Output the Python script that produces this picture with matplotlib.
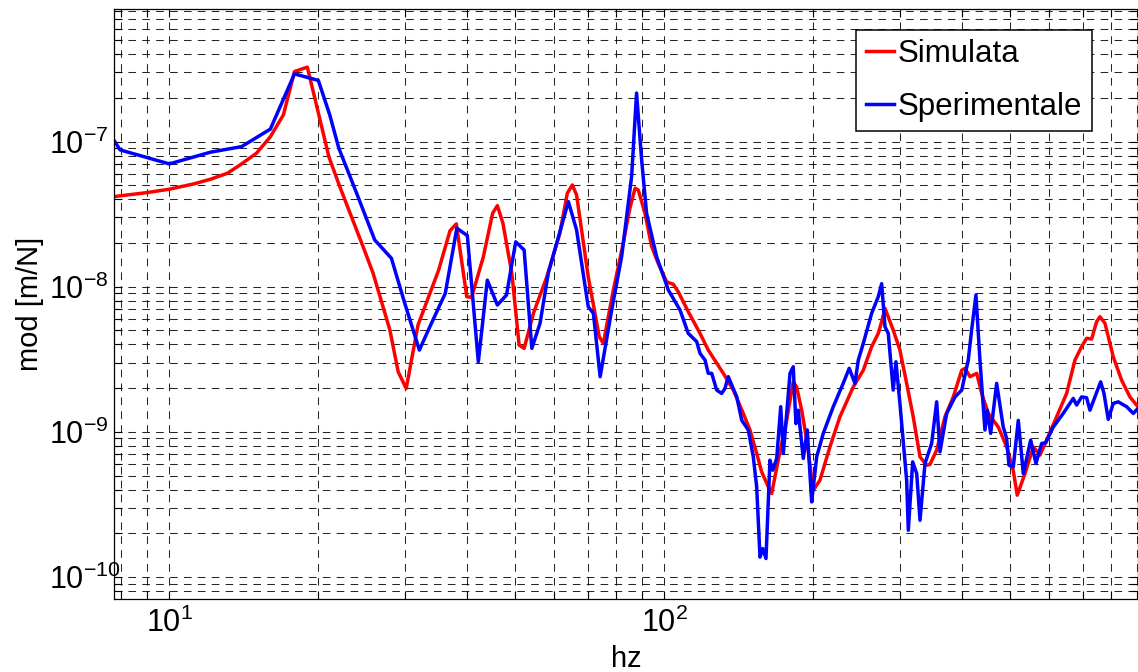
import matplotlib
matplotlib.use('Agg')
import matplotlib.pyplot as plt
from matplotlib.ticker import NullFormatter

# Data (frequency in Hz, modulus in m/N)
freq_sim = [7.73, 9.0, 10.0, 11.2, 12.1, 13.1, 13.9, 15.0, 16.0, 17.0, 17.9, 19.0, 20.0,
            21.0, 22.1, 24.7, 25.8, 27.9, 29.0, 30.1, 31.8, 35.0, 36.9, 38.0, 39.9, 40.8,
            43.1, 45.0, 46.0, 47.2, 49.2, 50.9, 52.1, 54.4, 57.9, 61.5, 63.7, 65.2, 66.5,
            70.2, 73.9, 75.3, 78.9, 82.6, 85.2, 87.3, 88.6, 91.4, 94.3, 97.2, 101.1, 104.3,
            106.7, 111.8, 118.1, 122.7, 131.6, 137.9, 144.4, 149.0, 153.7, 157.3, 162.3,
            164.8, 169.9, 176.7, 182.2, 185.1, 189.5, 194.0, 200.0, 206.3, 216.1, 226.4,
            240.9, 252.4, 262.4, 270.6, 274.9, 279.2, 290.1, 299.3, 308.8, 318.4, 328.6,
            338.9, 344.2, 355.1, 369.1, 383.6, 399.0, 405.2, 414.7, 427.8, 437.8, 451.5,
            472.9, 491.8, 507.0, 516.6, 535.5, 556.6, 574.1, 592.2, 620.4, 650.0, 675.6,
            696.9, 713.3, 730.1, 747.3, 759.0, 776.9, 807.5, 839.5, 872.7, 906.0]
mod_sim = [4.18e-8, 4.45e-8, 4.70e-8, 5.11e-8, 5.50e-8, 6.05e-8, 6.91e-8, 8.32e-8, 1.08e-7,
           1.53e-7, 3.04e-7, 3.26e-7, 1.58e-7, 7.88e-8, 4.89e-8, 1.84e-8, 1.24e-8, 5.03e-9,
           2.59e-9, 1.99e-9, 5.45e-9, 1.30e-8, 2.43e-8, 2.71e-8, 8.53e-9, 8.45e-9, 1.61e-8,
           3.21e-8, 3.62e-8, 2.74e-8, 1.24e-8, 3.96e-9, 3.76e-9, 6.56e-9, 1.17e-8, 2.33e-8,
           4.41e-8, 5.03e-8, 4.29e-8, 1.17e-8, 4.52e-9, 4.07e-9, 9.49e-9, 1.99e-8, 3.47e-8,
           4.77e-8, 4.64e-8, 3.21e-8, 1.89e-8, 1.45e-8, 1.08e-8, 1.04e-8, 9.24e-9, 6.73e-9,
           4.77e-9, 3.66e-9, 2.53e-9, 1.94e-9, 1.34e-9, 1.03e-9, 7.10e-10, 5.30e-10, 4.18e-10,
           3.76e-10, 6.38e-10, 1.20e-9, 2.21e-9, 2.04e-9, 1.41e-9, 8.77e-10, 3.96e-10,
           4.64e-10, 7.88e-10, 1.27e-9, 2.04e-9, 2.66e-9, 3.86e-9, 4.77e-9, 5.74e-9, 7.10e-9,
           5.03e-9, 3.66e-9, 2.16e-9, 1.27e-9, 6.73e-10, 5.89e-10, 5.97e-10, 7.48e-10, 1.27e-9,
           1.74e-9, 2.66e-9, 2.74e-9, 2.40e-9, 2.53e-9, 1.84e-9, 1.34e-9, 1.08e-9, 7.88e-10,
           5.44e-10, 3.66e-10, 5.16e-10, 7.88e-10, 6.91e-10, 8.77e-10, 1.27e-9, 1.84e-9,
           3.12e-9, 3.86e-9, 4.41e-9, 4.36e-9, 5.74e-9, 6.21e-9, 5.60e-9, 3.29e-9, 2.27e-9,
           1.74e-9, 1.49e-9]

freq_exp = [7.73, 7.95, 10.0, 12.1, 14.0, 16.0, 17.9, 20.0, 21.1, 22.0, 23.9, 26.0, 28.1,
            29.9, 32.0, 33.6, 36.1, 38.1, 40.0, 42.1, 43.9, 46.0, 48.0, 50.1, 52.1, 54.0,
            56.1, 58.3, 64.0, 66.5, 70.2, 71.9, 74.2, 78.3, 82.0, 85.9, 87.9, 90.0, 92.1,
            96.5, 101.9, 107.6, 111.8, 116.3, 118.1, 120.9, 122.7, 124.7, 127.6, 130.6, 132.6,
            134.7, 140.1, 143.4, 147.8, 151.3, 153.7, 156.1, 158.1, 160.5, 163.5, 165.6, 168.7,
            171.9, 174.0, 179.5, 182.2, 184.5, 186.5, 190.9, 194.5, 198.5, 203.2, 209.5, 219.5,
            229.9, 236.4, 242.8, 246.6, 252.4, 262.4, 270.6, 274.9, 279.2, 283.5, 290.1, 293.8,
            299.3, 308.8, 311.2, 317.6, 323.6, 328.6, 336.3, 346.9, 355.1, 360.6, 372.0, 386.7,
            399.0, 411.3, 417.8, 426.3, 434.3, 444.5, 449.3, 456.5, 469.4, 484.0, 491.8, 497.1,
            507.2, 519.1, 531.4, 549.9, 563.6, 578.7, 589.6, 610.9, 639.8, 670.4, 681.0, 696.9,
            713.3, 724.4, 741.5, 761.5, 773.4, 788.8, 807.5, 826.4, 859.3, 886.3, 906.0]
mod_exp = [1.02e-7, 8.77e-8, 7.02e-8, 8.45e-8, 9.24e-8, 1.22e-7, 2.93e-7, 2.64e-7, 1.52e-7,
           9.0e-8, 4.41e-8, 2.10e-8, 1.57e-8, 7.68e-9, 3.66e-9, 5.30e-9, 9.0e-9, 2.53e-8,
           2.25e-8, 3.04e-9, 1.11e-8, 7.48e-9, 8.77e-9, 2.04e-8, 1.79e-8, 3.76e-9, 5.60e-9,
           1.24e-8, 3.86e-8, 2.46e-8, 7.28e-9, 6.56e-9, 2.40e-9, 6.91e-9, 1.61e-8, 5.74e-8,
           2.16e-7, 7.48e-8, 3.21e-8, 1.61e-8, 9.49e-9, 6.91e-9, 4.77e-9, 4.18e-9, 3.47e-9,
           3.12e-9, 2.53e-9, 2.53e-9, 1.94e-9, 1.84e-9, 1.99e-9, 2.40e-9, 1.74e-9, 1.20e-9,
           1.03e-9, 6.73e-10, 4.18e-10, 1.37e-10, 1.57e-10, 1.34e-10, 6.38e-10, 5.44e-10,
           6.56e-10, 1.49e-9, 7.10e-10, 2.53e-9, 2.81e-9, 1.14e-9, 1.41e-9, 6.56e-10, 1.03e-9,
           3.29e-10, 6.73e-10, 9.75e-10, 1.49e-9, 2.16e-9, 2.74e-9, 2.16e-9, 3.12e-9, 4.07e-9,
           6.56e-9, 8.53e-9, 1.05e-8, 5.30e-9, 4.77e-9, 1.94e-9, 3.04e-9, 1.57e-9, 4.64e-10,
           2.10e-10, 6.21e-10, 5.16e-10, 2.46e-10, 6.05e-10, 8.32e-10, 1.61e-9, 7.28e-10,
           1.34e-9, 1.74e-9, 1.94e-9, 3.12e-9, 5.03e-9, 8.77e-9, 3.12e-9, 1.03e-9, 1.41e-9,
           9.75e-10, 2.16e-9, 1.08e-9, 9.0e-10, 5.89e-10, 5.74e-10, 1.20e-9, 5.16e-10, 8.77e-10,
           6.05e-10, 8.32e-10, 8.40e-10, 1.08e-9, 1.34e-9, 1.70e-9, 1.53e-9, 1.74e-9, 1.72e-9,
           1.41e-9, 1.74e-9, 2.21e-9, 1.84e-9, 1.22e-9, 1.57e-9, 1.61e-9, 1.49e-9, 1.34e-9,
           1.45e-9]

# Style (MATLAB-like)
plt.rcParams['font.family'] = 'Liberation Sans'
plt.rcParams['mathtext.fontset'] = 'custom'
plt.rcParams['mathtext.rm'] = 'Liberation Sans'
plt.rcParams['mathtext.it'] = 'Liberation Sans:italic'
plt.rcParams['mathtext.bf'] = 'Liberation Sans:bold'
plt.rcParams['lines.scale_dashes'] = False

W, H = 1138, 672
fig = plt.figure(figsize=(W / 100, H / 100), dpi=100)
ax = fig.add_axes([114 / W, 1 - 599 / H, 1024 / W, 590 / H])

ax.loglog(freq_sim, mod_sim, color=(1, 0, 0), lw=2.5, label='Simulata')
ax.loglog(freq_exp, mod_exp, color=(0, 0, 1), lw=2.5, label='Sperimentale')

ax.set_xlim(7.73, 906)
ax.set_ylim(7.05e-11, 8.2e-7)

ax.grid(True, which='both', color='k', lw=0.75, ls=(0, (5.5, 4.5)), alpha=0.85)
ax.xaxis.set_minor_formatter(NullFormatter())
ax.yaxis.set_minor_formatter(NullFormatter())

ax.tick_params(which='both', direction='in', top=True, right=True,
               length=5.5, width=0.8, labelsize=22)
ax.tick_params(axis='x', pad=6)
ax.tick_params(axis='y', pad=47)
for lab in ax.get_yticklabels():
    lab.set_horizontalalignment('left')

for sp in ax.spines.values():
    sp.set_linewidth(0.9)

ax.set_xlabel('hz', fontsize=21, va='baseline')
ax.xaxis.set_label_coords(0.5, -0.115)
ax.set_ylabel('mod [m/N]', fontsize=21, va='center')
ax.yaxis.set_label_coords(-0.082, 0.5)

leg = ax.legend(loc='upper right', bbox_to_anchor=(0.955, 0.9644), fontsize=22.5,
                frameon=True, fancybox=False, shadow=False, framealpha=1,
                edgecolor='k', borderaxespad=0, handlelength=0.9,
                handletextpad=0.14, borderpad=0.3, labelspacing=0.72)
leg.get_frame().set_linewidth(1.1)

fig.savefig('out.png', dpi=100)
